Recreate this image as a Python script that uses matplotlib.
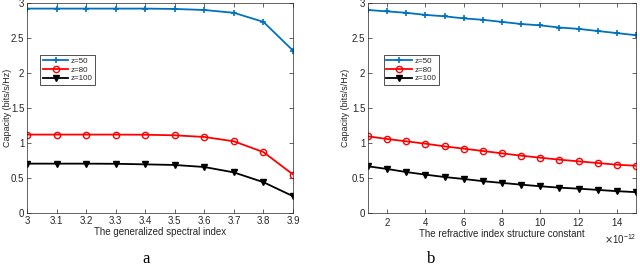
import matplotlib
matplotlib.use("Agg")
import matplotlib.pyplot as plt
from matplotlib.ticker import ScalarFormatter

plt.rcParams['font.family'] = ['Liberation Sans', 'DejaVu Sans']

# Panel a data
spectral_index = [3.0, 3.1, 3.2, 3.3, 3.4, 3.5, 3.6, 3.7, 3.8, 3.9]
a_z50 = [2.92, 2.92, 2.92, 2.92, 2.92, 2.915, 2.90, 2.86, 2.73, 2.32]
a_z80 = [1.12, 1.12, 1.12, 1.12, 1.118, 1.11, 1.086, 1.024, 0.87, 0.55]
a_z100 = [0.705, 0.705, 0.705, 0.703, 0.695, 0.686, 0.657, 0.58, 0.44, 0.24]

# Panel b data (refractive index structure constant, units of 1e-12)
cn2_scaled = [1, 2, 3, 4, 5, 6, 7, 8, 9, 10, 11, 12, 13, 14, 15]
b_z50 = [2.90, 2.88, 2.86, 2.83, 2.81, 2.78, 2.76, 2.73, 2.70, 2.68, 2.65, 2.63, 2.60, 2.57, 2.54]
b_z80 = [1.095, 1.057, 1.024, 0.99, 0.952, 0.919, 0.886, 0.852, 0.819, 0.79, 0.762, 0.738, 0.714, 0.69, 0.675]
b_z100 = [0.667, 0.629, 0.585, 0.548, 0.514, 0.486, 0.455, 0.43, 0.405, 0.382, 0.362, 0.348, 0.33, 0.312, 0.298]

labels = ['z=50', 'z=80', 'z=100']
blue = '#0072BD'
red = '#FF0000'
black = '#000000'
gray = '#262626'
fs = 7

fig = plt.figure(figsize=(6.4, 2.68), dpi=100)
ax1 = fig.add_axes([27/640, 1 - 213/268, (293-27)/640, (213-3)/268])
ax2 = fig.add_axes([368/640, 1 - 213/268, (636-368)/640, (213-3)/268])

def style(ax, ylab_x):
    ax.tick_params(direction='in', labelsize=fs, colors=gray, length=3, width=0.5,
                   top=True, right=True, pad=2)
    for s in ax.spines.values():
        s.set_linewidth(0.5)
        s.set_color(gray)
    ax.set_ylim(0, 3)
    ax.set_yticks([0, 0.5, 1, 1.5, 2, 2.5, 3])
    ax.set_yticklabels(['0', '0.5', '1', '1.5', '2', '2.5', '3'])
    ax.set_ylabel('Capacity (bits/s/Hz)', fontsize=6.5, color=gray)
    ax.yaxis.set_label_coords(ylab_x, 0.5)

def draw(ax, x, y1, y2, y3):
    ax.plot(x, y1, color=blue, lw=1.3, marker='+', ms=5, mew=1.2, label=labels[0])
    ax.plot(x, y2, color=red, lw=1.3, marker='o', ms=4.5, mew=1.0, mfc='none', label=labels[1])
    ax.plot(x, y3, color=black, lw=1.3, marker='v', ms=5, mfc=black, label=labels[2])

draw(ax1, spectral_index, a_z50, a_z80, a_z100)
style(ax1, -0.058)
ax1.set_xlim(3, 3.9)
ax1.set_xticks(spectral_index)
ax1.set_xticklabels(['3', '3.1', '3.2', '3.3', '3.4', '3.5', '3.6', '3.7', '3.8', '3.9'])
ax1.set_xlabel('The generalized spectral index', fontsize=fs, color=gray, labelpad=1)

x_b = [v * 1e-12 for v in cn2_scaled]
draw(ax2, x_b, b_z50, b_z80, b_z100)
style(ax2, -0.066)
ax2.set_xlim(1e-12, 15e-12)
ax2.set_xticks([v * 1e-12 for v in [2, 4, 6, 8, 10, 12, 14]])
fmt = ScalarFormatter(useMathText=True)
fmt.set_powerlimits((-12, -12))
ax2.xaxis.set_major_formatter(fmt)
ax2.xaxis.get_offset_text().set_fontsize(fs)
ax2.xaxis.get_offset_text().set_color(gray)
ax2.set_xlabel('The refractive index structure constant', fontsize=fs, color=gray, labelpad=1)

for ax, loc in [(ax1, (0.05, 0.61)), (ax2, (0.06, 0.61))]:
    leg = ax.legend(loc='lower left', bbox_to_anchor=loc, fontsize=5.8, frameon=True,
                    fancybox=False, edgecolor=black, handlelength=3.2, handletextpad=0.3,
                    borderpad=0.3, labelspacing=0.15, borderaxespad=0)
    leg.get_frame().set_linewidth(0.6)
    for t in leg.get_texts():
        t.set_color(gray)

fig.text(146/640, 1 - 259/268, 'a', fontsize=12, family='Liberation Serif', ha='center', va='center')
fig.text(431/640, 1 - 259/268, 'b', fontsize=12, family='Liberation Serif', ha='center', va='center')

fig.savefig('out.png', dpi=100)
